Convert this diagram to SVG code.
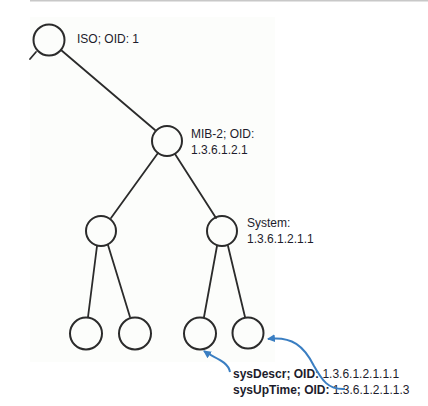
<svg xmlns="http://www.w3.org/2000/svg" width="428" height="406" viewBox="0 0 428 406">
<style>
.nd{fill:none;stroke:#2b2b2b;stroke-width:2}
.ln{stroke:#2b2b2b;stroke-width:1.8;fill:none;stroke-linecap:round}
.tx{font-family:"Liberation Sans",Arial,sans-serif;font-size:12px;fill:#1c1c2c}
.b{font-weight:bold}
.ar{fill:none;stroke:#3a7ec2;stroke-width:2}
</style>
<defs>
<marker id="ah" markerWidth="9" markerHeight="8" refX="7" refY="4" orient="auto" markerUnits="userSpaceOnUse">
<path d="M0,0 L8,4 L0,8 z" fill="#3a7ec2"/>
</marker>
</defs>
<rect x="0" y="0" width="428" height="406" fill="#ffffff"/>
<rect x="30" y="17" width="245" height="345" fill="#fcfdfb"/>
<line x1="30" y1="0.5" x2="428" y2="0.5" stroke="#c8c8c8" stroke-width="2"/>
<g id="connectors">
<line class="ln" x1="36" y1="52" x2="30" y2="59"/>
<line class="ln" x1="61" y1="50" x2="155" y2="130"/>
<line class="ln" x1="158" y1="153" x2="111" y2="218"/>
<line class="ln" x1="175" y1="154" x2="216" y2="218"/>
<line class="ln" x1="97" y1="246" x2="88" y2="317"/>
<line class="ln" x1="108" y1="245" x2="130" y2="317"/>
<line class="ln" x1="217" y1="246" x2="204" y2="317"/>
<line class="ln" x1="228" y1="246" x2="245" y2="317"/>
</g>
<g id="node-iso">
<circle class="nd" cx="49" cy="40" r="15.5"/>
<text class="tx" x="77" y="43">ISO; OID: 1</text>
</g>
<g id="node-mib2">
<circle class="nd" cx="167" cy="141" r="15"/>
<text class="tx" x="191" y="138">MIB-2; OID:</text>
<text class="tx" x="191" y="154">1.3.6.1.2.1</text>
</g>
<g id="node-left">
<circle class="nd" cx="101" cy="231" r="15"/>
</g>
<g id="node-system">
<circle class="nd" cx="222" cy="231" r="15"/>
<text class="tx" x="247" y="227">System:</text>
<text class="tx" x="247" y="243">1.3.6.1.2.1.1</text>
</g>
<g id="node-leaf1">
<circle class="nd" cx="86" cy="333.5" r="16"/>
</g>
<g id="node-leaf2">
<circle class="nd" cx="135" cy="333.5" r="16"/>
</g>
<g id="node-sysdescr">
<circle class="nd" cx="200" cy="333.5" r="16"/>
</g>
<g id="node-sysuptime">
<circle class="nd" cx="248" cy="333" r="15.5"/>
</g>
<g id="labels">
<text class="tx" x="233" y="378"><tspan class="b">sysDescr; OID:</tspan> 1.3.6.1.2.1.1.1</text>
<text class="tx" x="233" y="394"><tspan class="b">sysUpTime; OID:</tspan> 1.3.6.1.2.1.1.3</text>
</g>
<g id="callouts">
<path class="ar" d="M230,372 C228,361 214,358 204,351" marker-end="url(#ah)"/>
<path class="ar" d="M345,389 C328,390 322,380 314,366 C304,346 292,336 268,339" marker-end="url(#ah)"/>
</g>
</svg>
